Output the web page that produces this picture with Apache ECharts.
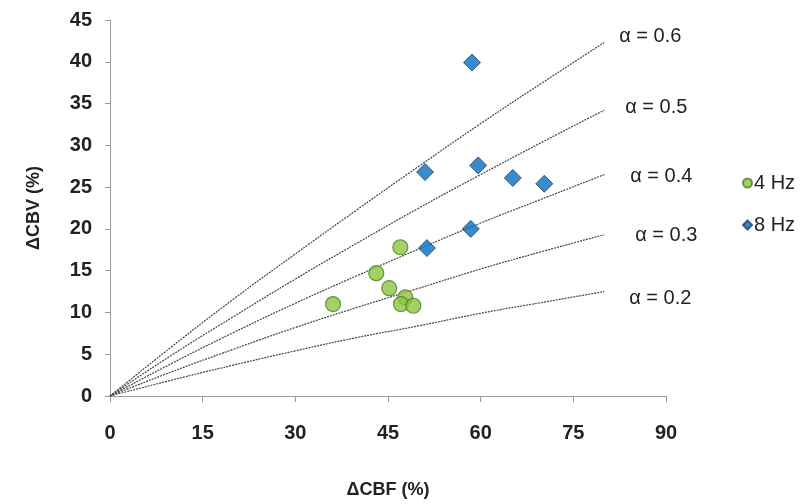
<!DOCTYPE html>
<html>
<head>
<meta charset="utf-8">
<script src="https://cdn.jsdelivr.net/npm/echarts@6/dist/echarts.min.js"></script>
<style>
  * { margin: 0; padding: 0; }
  html, body { background: #fff; }
</style>
</head>
<body>
<!-- 图表容器 -->
<div id="chart" style="width:805px;height:504px;"></div>
<script>
  // 散点数据 [ΔCBF, ΔCBV]
  var hz4 = [[47.0, 17.8], [43.1, 14.7], [45.2, 12.9], [36.1, 11.0], [47.8, 11.8], [47.1, 11.0], [49.1, 10.8]];
  var hz8 = [[58.6, 39.9], [51.0, 26.8], [59.6, 27.6], [65.2, 26.1], [70.3, 25.4], [58.4, 20.0], [51.3, 17.7]];

  // α 参考曲线
  var curveX = [0, 10, 20, 30, 40, 50, 60, 70, 80];
  var alpha06 = [0, 5.9, 11.6, 17.0, 22.3, 27.5, 32.6, 37.5, 42.3];
  var alpha05 = [0, 4.9, 9.5, 14.0, 18.3, 22.5, 26.5, 30.4, 34.2];
  var alpha04 = [0, 3.9, 7.6, 11.1, 14.4, 17.6, 20.7, 23.6, 26.5];
  var alpha03 = [0, 2.9, 5.6, 8.2, 10.6, 12.9, 15.2, 17.3, 19.3];
  var alpha02 = [0, 1.9, 3.7, 5.4, 7.0, 8.4, 9.9, 11.2, 12.5];
  var curveNames = ['α = 0.6', 'α = 0.5', 'α = 0.4', 'α = 0.3', 'α = 0.2'];
  var curveOffsets = [[7, -6], [13, -3], [18, 2], [23, 1], [17, 7]];

  var font = 'Liberation Sans, Arial, sans-serif';

  function curve(name, ys, off) {
    return {
      name: name,
      type: 'line',
      data: curveX.map(function (x, i) { return [x, ys[i]]; }),
      smooth: true,
      symbol: 'none',
      silent: true,
      lineStyle: { color: '#444', width: 1.2, type: [2, 1] },
      endLabel: {
        show: true,
        formatter: name,
        offset: off,
        color: '#222',
        fontSize: 20,
        fontFamily: font
      },
      z: 1
    };
  }

  var chart = echarts.init(document.getElementById('chart'));
  chart.setOption({
    animation: false,
    grid: { left: 110, right: 139, top: 20, bottom: 100 },
    legend: {
      orient: 'vertical',
      left: 737,
      top: 168,
      itemGap: 22,
      itemWidth: 9,
      itemHeight: 9,
      data: ['4 Hz', '8 Hz'],
      textStyle: { color: '#222', fontSize: 20, lineHeight: 20, fontFamily: font, padding: [0, 0, 0, -3] }
    },
    xAxis: {
      type: 'value',
      min: 0, max: 90, interval: 15,
      name: 'ΔCBF (%)',
      nameLocation: 'middle',
      nameGap: 85,
      nameTextStyle: { color: '#222', fontSize: 18, fontWeight: 'bold', fontFamily: font },
      axisLine: { lineStyle: { color: '#999' } },
      axisTick: { show: true, length: 6, lineStyle: { color: '#999' } },
      axisLabel: { color: '#222', fontSize: 20, fontWeight: 'bold', fontFamily: font, margin: 27 },
      splitLine: { show: false }
    },
    yAxis: {
      type: 'value',
      min: 0, max: 45, interval: 5,
      name: 'ΔCBV (%)',
      nameLocation: 'middle',
      nameGap: 67,
      nameTextStyle: { color: '#222', fontSize: 18, fontWeight: 'bold', fontFamily: font },
      axisLine: { show: true, lineStyle: { color: '#999' } },
      axisTick: { show: true, length: 5, lineStyle: { color: '#999' } },
      axisLabel: { color: '#222', fontSize: 20, fontWeight: 'bold', fontFamily: font, margin: 18 },
      splitLine: { show: false }
    },
    series: [
      curve(curveNames[0], alpha06, curveOffsets[0]),
      curve(curveNames[1], alpha05, curveOffsets[1]),
      curve(curveNames[2], alpha04, curveOffsets[2]),
      curve(curveNames[3], alpha03, curveOffsets[3]),
      curve(curveNames[4], alpha02, curveOffsets[4]),
      {
        name: '4 Hz',
        type: 'scatter',
        data: hz4,
        symbol: 'circle',
        symbolSize: 15,
        itemStyle: { color: '#8CC63F', borderColor: '#4E7A22', borderWidth: 1.2 },
        z: 3
      },
      {
        name: '8 Hz',
        type: 'scatter',
        data: hz8,
        symbol: 'diamond',
        symbolSize: [17, 17],
        itemStyle: { color: '#0A6EBD', borderColor: '#1F3E66', borderWidth: 1 },
        z: 3
      }
    ]
  });
</script>
</body>
</html>
